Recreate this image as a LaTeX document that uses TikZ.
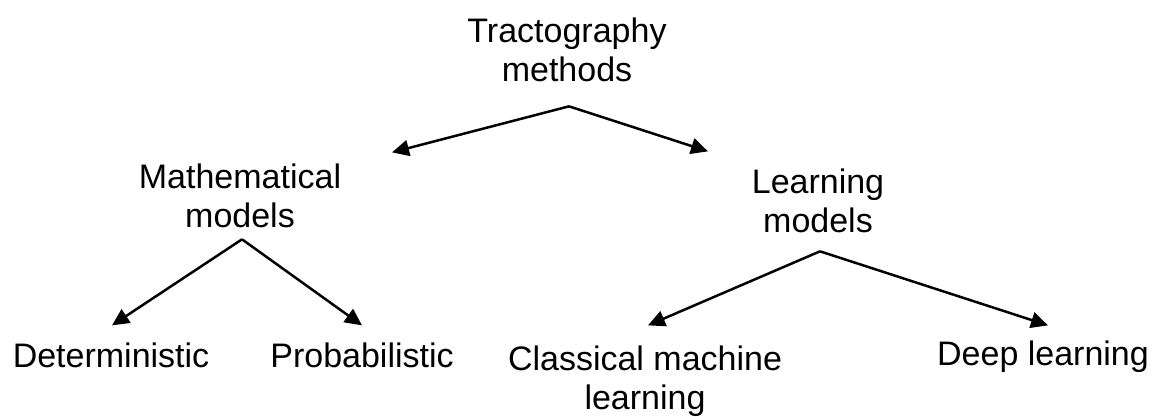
\documentclass[tikz,border=0pt]{standalone}
\usepackage{fontspec}
\setmainfont{Liberation Sans}
\usetikzlibrary{arrows.meta}
\begin{document}
\begin{tikzpicture}[x=1pt,y=-1pt,
  lbl/.style={anchor=base,align=center,inner sep=0pt,outer sep=0pt,
    font=\fontsize{34}{39}\selectfont},
  arr/.style={line width=2.5pt,-{Triangle[length=17pt,width=16pt]}}]
\useasboundingbox (0,0) rectangle (1158,417);

% levels of the tree (base = baseline of the last line)
\node[lbl] (tm)   at (567,82)  {Tractography\\methods};
\node[lbl] (mm)   at (240,227) {Mathematical\\models};
\node[lbl] (lm)   at (818,232) {Learning\\models};
\node[lbl] (det)  at (111,367) {Deterministic};
\node[lbl] (prob) at (362,367) {Probabilistic};
\node[lbl] (cml)  at (645,409) {Classical machine\\learning};
\node[lbl] (dl)   at (1043,365) {Deep learning};

% branches
\draw[arr] ([xshift=2pt,yshift=-24pt]tm.south) -- ([yshift=11pt]mm.north -| 392,0);
\draw[arr] ([xshift=2pt,yshift=-24pt]tm.south) -- ([yshift=17pt]lm.north -| 708,0);
\draw[arr] ([xshift=2pt,yshift=-12pt]mm.south) -- ([yshift=17pt]det.north -| 112,0);
\draw[arr] ([xshift=2pt,yshift=-12pt]mm.south) -- ([yshift=17pt]prob.north -| 362,0);
\draw[arr] ([xshift=2pt,yshift=-19pt]lm.south) -- ([yshift=20pt]cml.north -| 648,0);
\draw[arr] ([xshift=2pt,yshift=-19pt]lm.south) -- ([yshift=15pt]dl.north -| 1048,0);
\end{tikzpicture}
\end{document}
